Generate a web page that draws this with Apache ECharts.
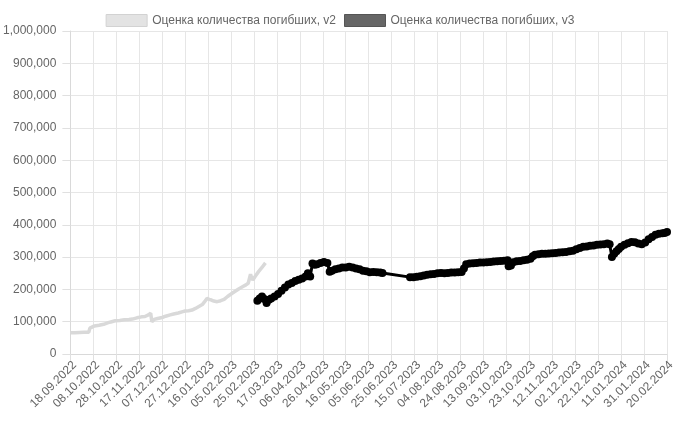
<!DOCTYPE html>
<html>
<head>
<meta charset="utf-8">
<script src="https://cdn.jsdelivr.net/npm/echarts@6/dist/echarts.min.js"></script>
<style>html,body{margin:0;padding:0;background:#fff}#c{width:680px;height:425px}</style>
</head>
<body>
<div id="c"></div>
<script>
// Category axis: daily dates from 18.09.2022 to 20.02.2024 (521 days), every 20th labelled
var startDate = Date.UTC(2022, 8, 18);
var dayCount = 521;
var categories = [];
for (var i = 0; i < dayCount; i++) {
  var d = new Date(startDate + i * 86400000);
  var dd = ('0' + d.getUTCDate()).slice(-2), mm = ('0' + (d.getUTCMonth() + 1)).slice(-2);
  categories.push(dd + '.' + mm + '.' + d.getUTCFullYear());
}
var seriesNames = ['Оценка количества погибших, v2', 'Оценка количества погибших, v3'];

// v2 estimate: day offsets (from 18.09.2022) and values
var v2Days = [0,4,8,12,16,17,18,21,25,29,33,36,39,43,47,51,54,58,62,65,68,70,71,73,76,80,83,87,90,94,98,100,103,106,109,112,115,117,119,121,123,125,128,131,134,137,141,144,147,150,153,155,156,157,158,159,161,164,167,170];
var v2Values = [66000,66000,66500,67000,67500,80000,84000,87000,89000,92000,97000,100000,103000,104000,106000,107000,108000,112000,115000,116000,121000,126000,100000,107000,110000,113000,117000,121000,124000,127000,131000,133000,134000,136000,141000,147000,153000,162000,172000,169000,167000,164000,162000,165000,169000,178000,188000,195000,202000,208000,214000,219000,224000,247000,236000,229000,240000,255000,268000,282000];

// v3 estimate
var v3Days = [163,165,167,169,171,173,175,178,181,184,187,190,193,196,199,202,205,207,209,211,213,215,218,221,224,226,228,231,234,237,240,243,246,249,252,255,258,261,264,267,270,272,
  296,299,302,305,308,311,314,317,320,323,326,329,332,335,338,341,343,345,348,351,354,357,360,363,366,369,372,375,378,381,382,384,386,389,392,395,398,401,403,405,408,411,414,417,420,423,426,429,432,435,438,441,444,447,450,453,456,459,462,465,468,470,472,474,476,478,480,483,486,489,492,495,498,501,504,507,510,513,516,518,520];
var v3Values = [165000,172000,178000,170000,158000,168000,172000,178000,186000,196000,206000,215000,220000,226000,230000,234000,240000,250000,240000,280000,276000,278000,282000,285000,282000,255000,258000,262000,265000,268000,268000,270000,268000,265000,262000,258000,256000,253000,254000,253000,252000,251000,
  238000,238000,239000,241000,243000,245000,247000,248000,250000,251000,250000,251000,252000,252000,253000,254000,265000,278000,280000,281000,282000,283000,283000,284000,285000,286000,287000,288000,289000,290000,272000,274000,284000,287000,288000,290000,292000,295000,303000,307000,309000,310000,310000,311000,312000,313000,314000,315000,316000,318000,320000,324000,328000,332000,333000,335000,336000,338000,339000,340000,342000,340000,300000,310000,318000,325000,332000,338000,343000,347000,346000,342000,340000,345000,355000,362000,369000,372000,374000,375000,378000];

function pairs(days, vals) { return days.map(function (d, i) { return [d, vals[i]]; }); }

var chart = echarts.init(document.getElementById('c'), null, { renderer: 'canvas' });
chart.setOption({
  animation: false,
  textStyle: { fontFamily: 'Liberation Sans, Arial, sans-serif' },
  legend: {
    top: 9, left: 'center',
    icon: 'rect', itemWidth: 41, itemHeight: 12, itemGap: 8,
    textStyle: { color: '#666', fontSize: 12 },
    data: [
      { name: seriesNames[0], itemStyle: { color: '#e3e3e3', borderColor: '#d2d2d2', borderWidth: 1 } },
      { name: seriesNames[1], itemStyle: { color: '#666666', borderColor: '#555555', borderWidth: 1 } }
    ]
  },
  grid: { left: 70, right: 13, top: 31, bottom: 71, containLabel: false },
  xAxis: {
    type: 'category', data: categories, boundaryGap: false,
    axisLine: { show: true, lineStyle: { color: '#d9d9d9' } },
    axisTick: { show: true, interval: 19, length: 8, lineStyle: { color: '#e0e0e0' } },
    axisLabel: { interval: 19, rotate: 45, color: '#666', fontSize: 12, margin: 5, verticalAlign: 'top' },
    splitLine: { show: true, interval: 19, lineStyle: { color: '#e6e6e6' } }
  },
  yAxis: {
    type: 'value', min: 0, max: 1000000, interval: 100000,
    axisLine: { show: true, lineStyle: { color: '#d9d9d9' } },
    axisTick: { show: true, length: 8, lineStyle: { color: '#e0e0e0' } },
    axisLabel: { color: '#666', fontSize: 12, margin: 14, formatter: function (v) { return v.toLocaleString('en-US'); } },
    splitLine: { show: true, lineStyle: { color: '#e6e6e6' } }
  },
  series: [
    {
      name: seriesNames[0], type: 'line', data: pairs(v2Days, v2Values),
      showSymbol: false, symbol: 'none',
      lineStyle: { color: '#d9d9d9', width: 3.5 }, itemStyle: { color: '#d9d9d9' }, z: 2
    },
    {
      name: seriesNames[1], type: 'line', data: pairs(v3Days, v3Values),
      symbol: 'circle', symbolSize: 8, showAllSymbol: true,
      lineStyle: { color: '#000', width: 3 }, itemStyle: { color: '#000' }, z: 3
    }
  ]
});
</script>
</body>
</html>
